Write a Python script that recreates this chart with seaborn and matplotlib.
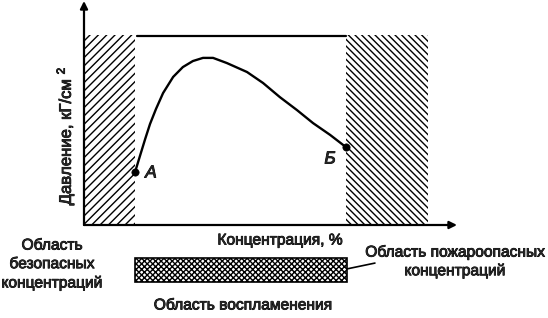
import matplotlib
matplotlib.use("Agg")
import matplotlib.pyplot as plt
import matplotlib.patheffects as pe
import numpy as np
import pandas as pd
import seaborn as sns

# ---- data (concentration, %  /  pressure, arbitrary units) ----
conc = [13.7, 15.0, 16.4, 17.7, 19.3, 21.2, 23.9, 26.5, 29.2, 31.9, 34.6,
        38.3, 43.7, 48.0, 52.5, 57.1, 61.4, 66.0, 70.2]
pressure = [23.7, 30.8, 38.4, 45.1, 51.8, 58.9, 66.1, 70.5, 73.2, 74.6, 74.6,
            72.3, 68.3, 63.4, 57.1, 51.3, 45.5, 40.2, 34.8]
point_names = ["A", "Б"]
point_conc = [13.7, 70.2]
point_pressure = [23.7, 34.8]
safe_zone = [0.0, 13.7]          # concentrations below lower limit
danger_zone = [70.2, 92.2]       # concentrations above upper limit
zone_top = 85.0
upper_pressure = 84.3
upper_line_conc = [14.2, 70.2]
ignition_range = [13.7, 70.5]

x_label = "Концентрация, %"
y_label = "Давление, кГ/см $^{2}$"
left_text = "Область\nбезопасных\nконцентраций"
right_text = "Область пожароопасных\nконцентраций"
bottom_text = "Область воспламенения"

sns.set_theme(style="white")
plt.rcParams["font.family"] = ["Liberation Sans", "DejaVu Sans"]
plt.rcParams["mathtext.fontset"] = "custom"
plt.rcParams["mathtext.rm"] = "Liberation Sans"
plt.rcParams["mathtext.it"] = "Liberation Sans:italic"
plt.rcParams["hatch.linewidth"] = 1.0

W, H = 548, 318
fig = plt.figure(figsize=(W / 100, H / 100), dpi=100)
fig.patch.set_facecolor("white")
ax = fig.add_axes([84 / W, (H - 225) / H, (457 - 84) / W, (225 - 1) / H])

# hatched zones
ax.bar([safe_zone[0]], [zone_top], width=safe_zone[1] - safe_zone[0], align="edge",
       facecolor="white", edgecolor="black", linewidth=0, hatch="////")
ax.bar([danger_zone[0]], [zone_top], width=danger_zone[1] - danger_zone[0], align="edge",
       facecolor="white", edgecolor="black", linewidth=0, hatch="\\\\\\\\\\")

# upper pressure line
ax.plot(upper_line_conc, [upper_pressure, upper_pressure], color="black", lw=1.6)

# curve
df = pd.DataFrame({"conc": conc, "pressure": pressure})
sns.lineplot(data=df, x="conc", y="pressure", sort=False, color="black", lw=1.7,
             solid_joinstyle="round", solid_capstyle="round", ax=ax)
sns.scatterplot(x=point_conc, y=point_pressure, color="black", s=28, edgecolor="black",
                zorder=5, ax=ax)
ax.set_xlim(0, 100)
ax.set_ylim(0, 100)
ax.axis("off")

# axes arrows
arrow = dict(arrowstyle="-|>", lw=1.6, color="black", mutation_scale=11, shrinkA=0, shrinkB=0)
ax.annotate("", xy=(100, 0), xytext=(0, 0), arrowprops=arrow, annotation_clip=False)
ax.annotate("", xy=(0, 100), xytext=(0, 0), arrowprops=arrow, annotation_clip=False)

# ignition range bar below the axis
ax.bar([ignition_range[0]], [10.7], bottom=-25.4, width=ignition_range[1] - ignition_range[0],
       align="edge", facecolor="white", edgecolor="black", linewidth=1.2, hatch="xxxxxx",
       clip_on=False)
ax.plot([ignition_range[1], 78.0], [-19.6, -17.0], color="black", lw=1.2, clip_on=False)

stroke = [pe.withStroke(linewidth=0.6, foreground="black")]

# point labels
ax.text((151 - 84) / 3.73, (225 - 173) / 2.24, point_names[0], fontsize=12.5,
        style="italic", ha="center", va="center", path_effects=stroke)
ax.text((330 - 84) / 3.73, (225 - 159) / 2.24, point_names[1], fontsize=12.5,
        style="italic", ha="center", va="center", path_effects=stroke)

fs = 11.2
def ftext(px, py, s, **kw):
    fig.text(px / W, 1 - py / H, s, fontsize=fs, ha="center", va="center",
             path_effects=stroke, **kw)

ftext(280, 240, x_label)
ftext(243, 305, bottom_text)
ftext(52, 264, left_text, linespacing=1.3)
ftext(455, 261, right_text, linespacing=1.25)
fig.text(65 / W, 1 - 136 / H, y_label, fontsize=12, rotation=90, ha="center", va="center",
         path_effects=stroke)

fig.savefig("out.png", dpi=100, facecolor="white")
